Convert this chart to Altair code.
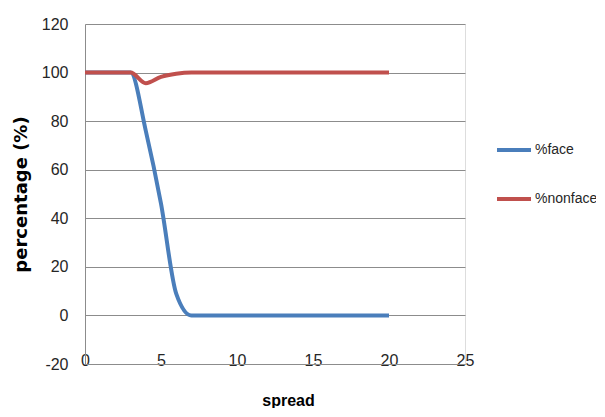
import altair as alt
import pandas as pd

spread = list(range(0, 21))
face = [100, 100, 100, 100, 76, 46, 9, 0, 0, 0, 0, 0, 0, 0, 0, 0, 0, 0, 0, 0, 0]
nonface = [100, 100, 100, 100, 95.6, 98.2, 99.5, 100, 100, 100, 100, 100, 100, 100,
           100, 100, 100, 100, 100, 100, 100]
series_names = ["%face", "%nonface"]
series_colors = ["#4A7EBB", "#C0504D"]

rows = []
for name, vals in zip(series_names, [face, nonface]):
    for s, v in zip(spread, vals):
        rows.append({"spread": s, "value": v, "series": name})
df = pd.DataFrame(rows)

LBL = "Liberation Sans"
GRID = "#8c8c8c"

chart = alt.Chart(df).mark_line(interpolate="monotone", strokeWidth=4).encode(
    x=alt.X("spread:Q",
            scale=alt.Scale(domain=[0, 25], nice=False),
            axis=alt.Axis(values=[0, 5, 10, 15, 20, 25], grid=False, ticks=False,
                          domainColor=GRID, labelFont=LBL, labelFontSize=16,
                          labelColor="#262626", labelBaseline="middle",
                          labelPadding=-4, labelFlush=False,
                          labelExpr="'' + datum.value",
                          title="spread", titleFont=LBL, titleFontSize=16,
                          titleFontWeight="bold", titleColor="#000000",
                          titleX=203, titleY=36, titleBaseline="middle",
                          titleAlign="center")),
    y=alt.Y("value:Q",
            scale=alt.Scale(domain=[-20, 120], nice=False),
            axis=alt.Axis(values=[-20, 0, 20, 40, 60, 80, 100, 120], grid=True,
                          gridColor=GRID, ticks=False, domainColor=GRID,
                          labelFont=LBL, labelFontSize=16, labelColor="#262626",
                          labelPadding=17, labelExpr="'' + datum.value",
                          title="percentage (%)", titleFont="DejaVu Sans",
                          titleFontSize=18, titleFontWeight="bold",
                          titleColor="#000000", titleAngle=-90,
                          titleX=-59, titleY=170, titleAlign="center",
                          titleBaseline="alphabetic")),
    color=alt.Color("series:N",
                    scale=alt.Scale(domain=series_names, range=series_colors),
                    legend=alt.Legend(title=None, orient="none", legendX=410,
                                      legendY=107, symbolType="stroke",
                                      symbolSize=1156, symbolStrokeWidth=4,
                                      labelFont=LBL, labelFontSize=14,
                                      labelColor="#262626", labelOffset=2,
                                      rowPadding=22, padding=0)),
    order=alt.Order("series:N"),
).properties(
    width=380, height=340,
    autosize=alt.AutoSizeParams(type="none"),
    padding={"left": 77, "top": 16, "right": 131, "bottom": 44},
).configure_view(stroke=None).configure(background="white")

chart.save("out.html", embed_options={"renderer": "svg", "actions": False})
